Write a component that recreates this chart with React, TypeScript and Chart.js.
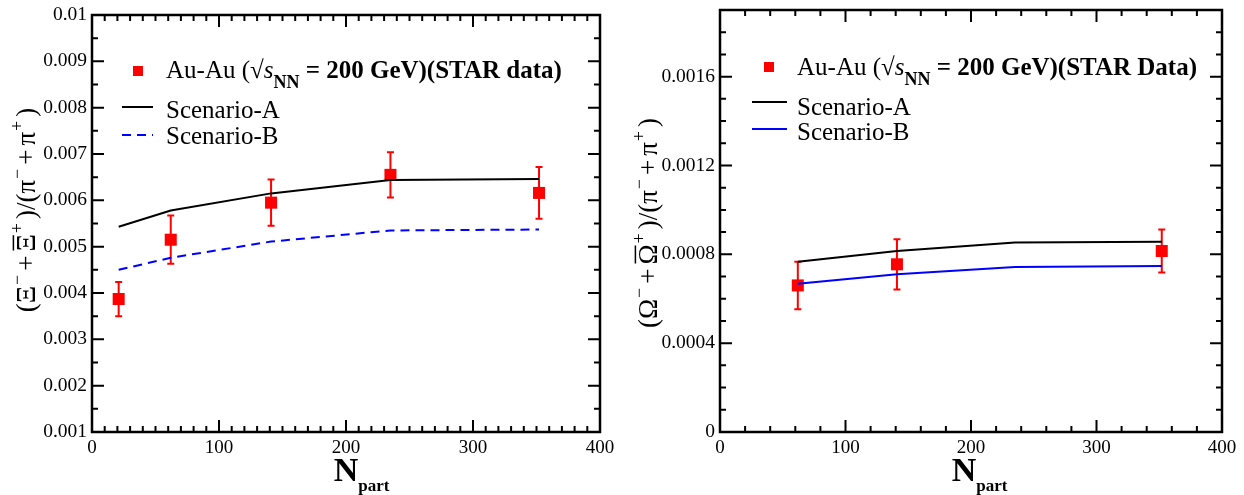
import React, { useEffect, useRef } from 'react';
import { Chart, registerables } from 'chart.js';

Chart.register(...registerables);

// ---------- Data: left panel (Xi) ----------
const xiNpart = [21, 62, 141, 235, 352];
const xiStar = [0.00387, 0.00515, 0.00595, 0.00655, 0.00616];
const xiStarErr = [0.00037, 0.00052, 0.0005, 0.00049, 0.00056];
const xiScenarioA = [0.00543, 0.00578, 0.00615, 0.00644, 0.00646];
const xiScenarioB = [0.0045, 0.00476, 0.00511, 0.00535, 0.00537];

// ---------- Data: right panel (Omega) ----------
const omegaStarNpart = [62, 141, 352];
const omegaStar = [0.00066, 0.000755, 0.000815];
const omegaStarErr = [0.000107, 0.000113, 0.000097];
const omegaModelNpart = [62, 141, 235, 352];
const omegaScenarioA = [0.000767, 0.000815, 0.000853, 0.000857];
const omegaScenarioB = [0.000668, 0.00071, 0.000743, 0.000747];

// ---------- Tick labels ----------
const xTickValues = [0, 100, 200, 300, 400];
const xiYTickValues = [0.001, 0.002, 0.003, 0.004, 0.005, 0.006, 0.007, 0.008, 0.009, 0.01];
const omegaYTickValues = [0, 0.0004, 0.0008, 0.0012, 0.0016];

const SERIF = '"Liberation Serif", "DejaVu Serif", serif';

type Seg = { t: string; size: number; weight?: string; style?: string; dy?: number; overline?: boolean; gap?: number };

function fontOf(s: Seg) {
  return `${s.style || 'normal'} ${s.weight || 'normal'} ${s.size}px ${SERIF}`;
}

function drawRich(ctx: CanvasRenderingContext2D, segs: Seg[], x: number, y: number, align: 'left' | 'center') {
  let w = 0;
  for (const s of segs) {
    ctx.font = fontOf(s);
    w += ctx.measureText(s.t).width + (s.gap || 0);
  }
  let cx = align === 'center' ? x - w / 2 : x;
  ctx.textAlign = 'left';
  ctx.textBaseline = 'alphabetic';
  for (const s of segs) {
    ctx.font = fontOf(s);
    const tw = ctx.measureText(s.t).width;
    ctx.fillText(s.t, cx, y + (s.dy || 0));
    if (s.overline) {
      const oy = y + (s.dy || 0) - s.size * 0.8;
      ctx.save();
      ctx.lineWidth = 1.5;
      ctx.beginPath();
      ctx.moveTo(cx + 1, oy);
      ctx.lineTo(cx + tw - 1, oy);
      ctx.stroke();
      ctx.restore();
    }
    cx += tw + (s.gap || 0);
  }
}

type Spec = {
  id: string;
  width: number;
  padTop: number;
  padRight: number;
  yAxisWidth: number;
  xMin: number; xMax: number; xMajor: number; xMinor: number;
  yMin: number; yMax: number; yMajor: number; yMinor: number;
  yTicks: number[];
  yDigits: number;
  dataX: number[]; dataY: number[]; dataErr: number[];
  modelX: number[]; modelA: number[]; modelB: number[];
  dashedB: boolean;
  legend: { markerX: number; markerY: number; textX: number; base0: number; base1: number; base2: number; lineX0: number; lineX1: number; line1Y: number; line2Y: number; dataWord: string };
  yTitle: { x: number; y: number; letter: string };
  xTitle: { nCenter: number };
};

function makePlugin(spec: Spec) {
  return {
    id: 'decor_' + spec.id,
    beforeDatasetsDraw(chart: any) {
      const ctx: CanvasRenderingContext2D = chart.ctx;
      const xs = chart.scales.x, ys = chart.scales.y;
      ctx.save();
      ctx.strokeStyle = '#ff0000';
      ctx.lineWidth = 2;
      spec.dataX.forEach((xv, i) => {
        const px = xs.getPixelForValue(xv);
        const t = ys.getPixelForValue(spec.dataY[i] + spec.dataErr[i]);
        const b = ys.getPixelForValue(spec.dataY[i] - spec.dataErr[i]);
        ctx.beginPath();
        ctx.moveTo(px, t); ctx.lineTo(px, b);
        ctx.moveTo(px - 3.5, t); ctx.lineTo(px + 3.5, t);
        ctx.moveTo(px - 3.5, b); ctx.lineTo(px + 3.5, b);
        ctx.stroke();
      });
      ctx.restore();
    },
    afterDraw(chart: any) {
      const ctx: CanvasRenderingContext2D = chart.ctx;
      const xs = chart.scales.x, ys = chart.scales.y;
      const { left, right, top, bottom } = chart.chartArea;
      ctx.save();
      ctx.strokeStyle = '#000';
      ctx.fillStyle = '#000';
      ctx.lineWidth = 2;
      // ticks on x (top and bottom)
      const nx = Math.round((spec.xMax - spec.xMin) / spec.xMinor);
      for (let i = 0; i <= nx; i++) {
        const v = spec.xMin + i * spec.xMinor;
        const r = v / spec.xMajor;
        const major = Math.abs(r - Math.round(r)) < 1e-6;
        const len = major ? 12 : 6;
        const px = xs.getPixelForValue(v);
        ctx.beginPath();
        ctx.moveTo(px, bottom); ctx.lineTo(px, bottom - len);
        ctx.moveTo(px, top); ctx.lineTo(px, top + len);
        ctx.stroke();
      }
      const ny = Math.round((spec.yMax - spec.yMin) / spec.yMinor);
      for (let i = 0; i <= ny; i++) {
        const v = spec.yMin + i * spec.yMinor;
        const r = v / spec.yMajor;
        const major = Math.abs(r - Math.round(r)) < 1e-6;
        const len = major ? 12 : 6;
        const py = ys.getPixelForValue(v);
        ctx.beginPath();
        ctx.moveTo(left, py); ctx.lineTo(left + len, py);
        ctx.moveTo(right, py); ctx.lineTo(right - len, py);
        ctx.stroke();
      }
      // frame
      ctx.lineWidth = 2.5;
      ctx.strokeRect(left, top, right - left, bottom - top);

      // legend
      const L = spec.legend;
      ctx.fillStyle = '#ff0000';
      ctx.fillRect(L.markerX - 5, L.markerY - 5, 10, 10);
      ctx.fillStyle = '#000';
      drawRich(ctx, [
        { t: 'Au-Au (\u221A', size: 25 },
        { t: 's', size: 25, style: 'italic' },
        { t: 'NN', size: 18, weight: 'bold', dy: 10 },
        { t: ' = 200 GeV)(STAR ' + L.dataWord + ')', size: 25, weight: 'bold' },
      ], L.textX, L.base0, 'left');
      ctx.lineWidth = 2;
      ctx.strokeStyle = '#000';
      ctx.beginPath(); ctx.moveTo(L.lineX0, L.line1Y); ctx.lineTo(L.lineX1, L.line1Y); ctx.stroke();
      drawRich(ctx, [{ t: 'Scenario-A', size: 25 }], L.textX, L.base1, 'left');
      ctx.strokeStyle = '#0000ff';
      if (spec.dashedB) ctx.setLineDash([9, 6]);
      ctx.beginPath(); ctx.moveTo(L.lineX0, L.line2Y); ctx.lineTo(L.lineX1, L.line2Y); ctx.stroke();
      ctx.setLineDash([]);
      drawRich(ctx, [{ t: 'Scenario-B', size: 25 }], L.textX, L.base2, 'left');

      // y title (rotated)
      ctx.strokeStyle = '#000';
      ctx.save();
      ctx.translate(spec.yTitle.x, spec.yTitle.y);
      ctx.rotate(-Math.PI / 2);
      const Lt = spec.yTitle.letter;
      drawRich(ctx, [
        { t: '(' + Lt, size: 27, gap: 1 },
        { t: '\u2212', size: 18, dy: -12, gap: 4 },
        { t: '+', size: 27, gap: 4 },
        { t: Lt, size: 27, overline: true, gap: 1 },
        { t: '+', size: 18, dy: -12, gap: 4 },
        { t: ')/(\u03C0', size: 27, gap: 1 },
        { t: '\u2212', size: 18, dy: -12, gap: 4 },
        { t: '+', size: 27, gap: 4 },
        { t: '\u03C0', size: 27, gap: 1 },
        { t: '+', size: 18, dy: -12, gap: 4 },
        { t: ')', size: 27 },
      ], 0, 0, 'center');
      ctx.restore();

      // x title
      ctx.font = `bold 34px ${SERIF}`;
      const nW = ctx.measureText('N').width;
      const nx0 = spec.xTitle.nCenter - nW / 2;
      drawRich(ctx, [
        { t: 'N', size: 34, weight: 'bold' },
        { t: 'part', size: 17, weight: 'bold', dy: 10 },
      ], nx0, 481, 'left');
      ctx.restore();
    },
  };
}

function Panel({ spec }: { spec: Spec }) {
  const ref = useRef<HTMLCanvasElement | null>(null);
  useEffect(() => {
    if (!ref.current) return;
    const fmt = (v: number) => String(Number(v.toFixed(spec.yDigits)));
    const chart = new Chart(ref.current, {
      type: 'scatter',
      data: {
        datasets: [
          {
            label: 'Scenario-A',
            data: spec.modelX.map((x, i) => ({ x, y: spec.modelA[i] })),
            showLine: true,
            borderColor: '#000000',
            borderWidth: 2,
            pointRadius: 0,
            fill: false,
          },
          {
            label: 'Scenario-B',
            data: spec.modelX.map((x, i) => ({ x, y: spec.modelB[i] })),
            showLine: true,
            borderColor: '#0000ff',
            borderWidth: 2,
            borderDash: spec.dashedB ? [9, 6] : [],
            pointRadius: 0,
            fill: false,
          },
          {
            label: 'STAR',
            data: spec.dataX.map((x, i) => ({ x, y: spec.dataY[i] })),
            showLine: false,
            pointStyle: 'rect',
            pointRadius: 8.5,
            backgroundColor: '#ff0000',
            borderWidth: 0,
          },
        ],
      },
      options: {
        responsive: false,
        animation: false,
        events: [],
        layout: { padding: { top: spec.padTop, right: spec.padRight, left: 0, bottom: 0 } },
        plugins: { legend: { display: false }, tooltip: { enabled: false } },
        scales: {
          x: {
            type: 'linear',
            min: spec.xMin,
            max: spec.xMax,
            grid: { display: false, drawTicks: false },
            border: { display: false },
            ticks: {
              autoSkip: false,
              maxRotation: 0,
              padding: 5,
              color: '#000',
              font: { family: SERIF, size: 19 },
              callback: (v: any) => String(v),
            },
            afterBuildTicks: (s: any) => { s.ticks = xTickValues.map((v) => ({ value: v })); },
            afterFit: (s: any) => { s.height = 63; s.paddingLeft = 0; s.paddingRight = 0; },
          },
          y: {
            type: 'linear',
            min: spec.yMin,
            max: spec.yMax,
            grid: { display: false, drawTicks: false },
            border: { display: false },
            ticks: {
              autoSkip: false,
              padding: 5,
              color: '#000',
              font: { family: SERIF, size: 19.5 },
              callback: (v: any) => fmt(Number(v)),
            },
            afterBuildTicks: (s: any) => { s.ticks = spec.yTicks.map((v) => ({ value: v })); },
            afterFit: (s: any) => { s.width = spec.yAxisWidth; s.paddingTop = 0; s.paddingBottom = 0; },
          },
        },
      } as any,
      plugins: [makePlugin(spec) as any],
    });
    return () => chart.destroy();
  }, [spec]);
  return <canvas ref={ref} width={spec.width} height={495} style={{ display: 'block' }} />;
}

const leftSpec: Spec = {
  id: 'xi',
  width: 622,
  padTop: 15,
  padRight: 22,
  yAxisWidth: 92,
  xMin: 0, xMax: 400, xMajor: 100, xMinor: 10,
  yMin: 0.001, yMax: 0.01, yMajor: 0.001, yMinor: 0.0005,
  yTicks: xiYTickValues,
  yDigits: 4,
  dataX: xiNpart, dataY: xiStar, dataErr: xiStarErr,
  modelX: xiNpart, modelA: xiScenarioA, modelB: xiScenarioB,
  dashedB: true,
  legend: { markerX: 138, markerY: 71, textX: 166, base0: 78, base1: 118, base2: 144, lineX0: 122, lineX1: 153, line1Y: 107, line2Y: 135, dataWord: 'data' },
  yTitle: { x: 35, y: 210, letter: '\u039E' },
  xTitle: { nCenter: 346 },
};

const rightSpec: Spec = {
  id: 'omega',
  width: 622,
  padTop: 10,
  padRight: 22,
  yAxisWidth: 98,
  xMin: 0, xMax: 400, xMajor: 100, xMinor: 20,
  yMin: 0, yMax: 0.0019, yMajor: 0.0004, yMinor: 0.0001,
  yTicks: omegaYTickValues,
  yDigits: 5,
  dataX: omegaStarNpart, dataY: omegaStar, dataErr: omegaStarErr,
  modelX: omegaModelNpart, modelA: omegaScenarioA, modelB: omegaScenarioB,
  dashedB: false,
  legend: { markerX: 147, markerY: 67, textX: 175, base0: 75, base1: 115, base2: 140, lineX0: 130, lineX1: 165, line1Y: 102, line2Y: 129, dataWord: 'Data' },
  yTitle: { x: 35, y: 223, letter: '\u03A9' },
  xTitle: { nCenter: 342 },
};

export default function App() {
  return (
    <div style={{ position: 'absolute', left: 0, top: 0, width: 1244, height: 495, background: '#fff', display: 'flex' }}>
      <Panel spec={leftSpec} />
      <Panel spec={rightSpec} />
    </div>
  );
}
